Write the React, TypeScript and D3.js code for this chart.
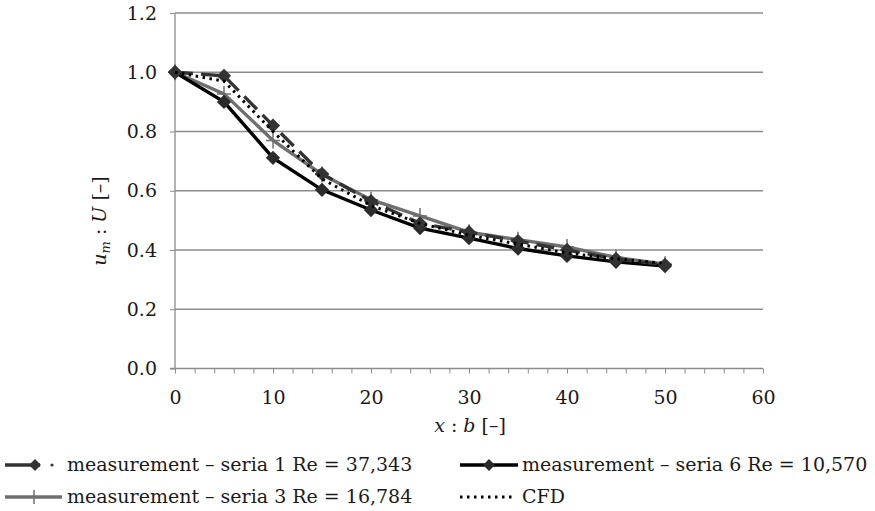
import React, { useEffect, useRef } from 'react'
import * as d3 from 'd3'

const xs = [0, 5, 10, 15, 20, 25, 30, 35, 40, 45, 50]
const seria1 = [1.0, 0.988, 0.82, 0.657, 0.565, 0.49, 0.46, 0.43, 0.4, 0.37, 0.35]
const seria6 = [1.0, 0.9, 0.711, 0.603, 0.535, 0.474, 0.44, 0.405, 0.38, 0.36, 0.346]
const seria3 = [1.0, 0.927, 0.77, 0.655, 0.57, 0.515, 0.46, 0.435, 0.41, 0.375, 0.352]
const cfd = [1.0, 0.97, 0.8, 0.64, 0.55, 0.49, 0.45, 0.42, 0.39, 0.37, 0.355]
const yTicks = [0, 0.2, 0.4, 0.6, 0.8, 1.0, 1.2]
const xTicks = [0, 10, 20, 30, 40, 50, 60]

const FONT = '"DejaVu Serif", serif'
const FS = '19px'

const App = () => {
    const ref = useRef(null)
    useEffect(() => {
        if (!ref.current) return
        const svg = d3.select(ref.current)
        svg.selectAll('*').remove()

        const x = d3.scaleLinear().domain([0, 60]).range([175, 763])
        const y = d3.scaleLinear().domain([0, 1.2]).range([368.5, 13])

        // grid
        svg.append('g')
            .selectAll('line')
            .data(yTicks.slice(1))
            .join('line')
            .attr('x1', x(0)).attr('x2', x(60))
            .attr('y1', d => y(d)).attr('y2', d => y(d))
            .attr('stroke', '#8c8c8c').attr('stroke-width', 1.3)

        // axes
        const yAxis = svg.append('g')
            .attr('transform', `translate(${x(0)},0)`)
            .call(d3.axisLeft(y).tickValues(yTicks).tickFormat(d3.format('.1f')).tickSize(5).tickPadding(13))
        const xAxis = svg.append('g')
            .attr('transform', `translate(0,${y(0)})`)
            .call(d3.axisBottom(x).tickValues(d3.range(0, 61, 2)).tickFormat(d => (xTicks.includes(d) ? d : '')).tickSize(5).tickPadding(17))
        for (const g of [yAxis, xAxis]) {
            g.select('.domain').attr('stroke', '#8c8c8c').attr('stroke-width', 1.3)
            g.selectAll('.tick line').attr('stroke', '#8c8c8c')
            g.selectAll('text').attr('fill', '#1a1a1a').style('font-family', FONT).style('font-size', FS)
        }
        yAxis.select('.domain').attr('d', `M0,${y(0)}V${y(1.2)}`)
        xAxis.select('.domain').attr('d', `M${x(0) - 5},0H${x(60)}`)

        const line = d3.line().x((d, i) => x(xs[i])).y(d => y(d))
        const diamond = d3.symbol().type(d3.symbolDiamond2).size(130)

        // seria 3
        svg.append('path').attr('d', line(seria3)).attr('fill', 'none')
            .attr('stroke', '#6f6f6f').attr('stroke-width', 3.4)
        svg.append('g').selectAll('path').data(seria3).join('path')
            .attr('d', (d, i) => `M${x(xs[i]) - 7},${y(d)}h14M${x(xs[i])},${y(d) - 8}v16`)
            .attr('stroke', '#6f6f6f').attr('stroke-width', 1.5)

        // seria 6
        svg.append('path').attr('d', line(seria6)).attr('fill', 'none')
            .attr('stroke', '#000').attr('stroke-width', 3.4)
        svg.append('g').selectAll('path').data(seria6).join('path')
            .attr('d', diamond)
            .attr('transform', (d, i) => `translate(${x(xs[i])},${y(d)})`)
            .attr('fill', '#2b2b2b')

        // seria 1
        svg.append('path').attr('d', line(seria1)).attr('fill', 'none')
            .attr('stroke', '#333').attr('stroke-width', 3.4).attr('stroke-dasharray', '18,8')
        svg.append('g').selectAll('path').data(seria1).join('path')
            .attr('d', diamond)
            .attr('transform', (d, i) => `translate(${x(xs[i])},${y(d)})`)
            .attr('fill', '#333')

        // CFD
        svg.append('path').attr('d', line(cfd)).attr('fill', 'none')
            .attr('stroke', '#000').attr('stroke-width', 3).attr('stroke-dasharray', '2.5,4.5')

        // axis titles
        const xt = svg.append('text').attr('x', 470).attr('y', 432).attr('text-anchor', 'middle')
            .style('font-family', FONT).style('font-size', FS).attr('fill', '#1a1a1a')
        xt.append('tspan').style('font-style', 'italic').text('x')
        xt.append('tspan').text(' : ')
        xt.append('tspan').style('font-style', 'italic').text('b')
        xt.append('tspan').text(' [–]')

        const yt = svg.append('text').attr('transform', 'translate(106,221) rotate(-90)').attr('text-anchor', 'middle')
            .style('font-family', FONT).style('font-size', FS).attr('fill', '#1a1a1a')
        yt.append('tspan').style('font-style', 'italic').text('u')
        yt.append('tspan').style('font-style', 'italic').style('font-size', '13px').attr('dy', 4).text('m')
        yt.append('tspan').attr('dy', -4).text(' : ')
        yt.append('tspan').style('font-style', 'italic').text('U')
        yt.append('tspan').text(' [–]')

        // legend
        const leg = svg.append('g')
        const label = (tx, ty, s) => leg.append('text').attr('x', tx).attr('y', ty)
            .style('font-family', FONT).style('font-size', FS).attr('fill', '#1a1a1a').text(s)

        leg.append('path').attr('d', 'M5,465H40').attr('stroke', '#333').attr('stroke-width', 3.4)
        leg.append('path').attr('d', diamond.size(90)()).attr('transform', 'translate(35,465)').attr('fill', '#333')
        leg.append('circle').attr('cx', 52).attr('cy', 465).attr('r', 1.6).attr('fill', '#333')
        label(67, 471, 'measurement – seria 1 Re = 37,343')

        leg.append('path').attr('d', 'M460,465H518').attr('stroke', '#000').attr('stroke-width', 3.4)
        leg.append('path').attr('d', diamond.size(90)()).attr('transform', 'translate(489,465)').attr('fill', '#2b2b2b')
        label(522, 471, 'measurement – seria 6 Re = 10,570')

        leg.append('path').attr('d', 'M5,497H62').attr('stroke', '#6f6f6f').attr('stroke-width', 3.4)
        leg.append('path').attr('d', 'M34,490V504').attr('stroke', '#6f6f6f').attr('stroke-width', 1.5)
        label(67, 503, 'measurement – seria 3 Re = 16,784')

        leg.append('path').attr('d', 'M460,497H516').attr('stroke', '#000').attr('stroke-width', 3).attr('stroke-dasharray', '2.5,4.5')
        label(522, 503, 'CFD')
    }, [])

    return (
        <svg ref={ref} width={875} height={511} style={{ position: 'absolute', left: 0, top: 0, background: '#fff' }} />
    )
}

export default App
